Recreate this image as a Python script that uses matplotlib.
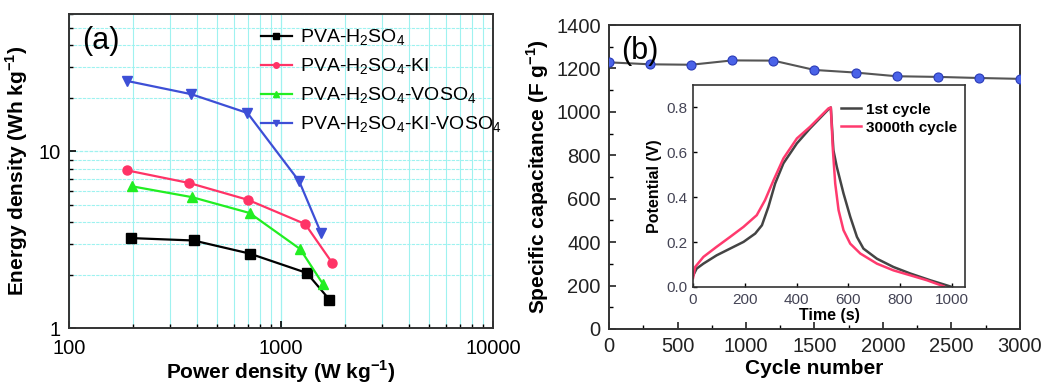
import numpy as np
import matplotlib
matplotlib.use("Agg")
import matplotlib.pyplot as plt
from matplotlib.ticker import LogLocator, MultipleLocator, NullFormatter, FixedLocator

plt.rcParams['font.family'] = ['Liberation Sans', 'DejaVu Sans']
plt.rcParams['mathtext.fontset'] = 'custom'
plt.rcParams['mathtext.rm'] = 'Liberation Sans'
plt.rcParams['mathtext.bf'] = 'Liberation Sans:bold'

# ---- Ragone data (power density W/kg, energy density Wh/kg) ----
p_h2so4 = [196, 387, 711, 1323, 1690]
e_h2so4 = [3.23, 3.13, 2.64, 2.05, 1.45]
p_ki = [188, 370, 698, 1300, 1747]
e_ki = [7.81, 6.62, 5.32, 3.88, 2.33]
p_voso4 = [199, 380, 711, 1231, 1574]
e_voso4 = [6.34, 5.51, 4.48, 2.80, 1.78]
p_ki_voso4 = [187, 377, 695, 1219, 1545]
e_ki_voso4 = [25.1, 21.1, 16.5, 6.77, 3.45]
series_labels = [r'PVA-H$_2$SO$_4$', r'PVA-H$_2$SO$_4$-KI',
                 r'PVA-H$_2$SO$_4$-VOSO$_4$', r'PVA-H$_2$SO$_4$-KI-VOSO$_4$']

# ---- cycling stability ----
cycles = [0, 300, 600, 900, 1200, 1500, 1800, 2100, 2400, 2700, 3000]
capacitance = [1228, 1219, 1217, 1237, 1236, 1193, 1181, 1164, 1161, 1156, 1152]

# ---- charge/discharge curves ----
t_first = [0, 14, 40, 91, 143, 195, 240, 266, 291, 317, 349, 401, 452, 523, 532,
           542, 555, 581, 607, 633, 658, 710, 774, 839, 916, 1000]
v_first = [0.050, 0.082, 0.104, 0.141, 0.171, 0.201, 0.238, 0.275, 0.357, 0.461,
           0.551, 0.640, 0.707, 0.792, 0.800, 0.610, 0.536, 0.417, 0.313, 0.223,
           0.171, 0.126, 0.089, 0.060, 0.030, 0.0]
t_last = [0, 8, 40, 91, 143, 195, 246, 278, 311, 349, 401, 452, 523, 532, 540,
          549, 562, 581, 607, 646, 710, 774, 839, 903, 968]
v_last = [0.040, 0.089, 0.134, 0.179, 0.223, 0.268, 0.320, 0.387, 0.476, 0.573,
          0.662, 0.714, 0.796, 0.800, 0.610, 0.461, 0.342, 0.253, 0.193, 0.149,
          0.104, 0.074, 0.052, 0.030, 0.003]

fig = plt.figure(figsize=(10.45, 3.83), dpi=100)

# ================= panel (a) =================
ax1 = fig.add_axes([0.066, 0.1436, 0.4058, 0.8198])
ax1.set_xscale('log')
ax1.set_yscale('log')
ax1.set_xlim(100, 10000)
ax1.set_ylim(1, 60)
grid_c = '#9ff2f0'
ax1.grid(True, which='major', axis='x', color=grid_c, lw=0.9)
ax1.grid(True, which='minor', axis='x', color=grid_c, lw=0.8)
ax1.grid(True, which='major', axis='y', color=grid_c, lw=0.9, ls=(0, (3, 1)))
ax1.grid(True, which='minor', axis='y', color=grid_c, lw=0.8, ls=(0, (3, 1)))
ax1.set_axisbelow(True)

styles = [
    (p_h2so4, e_h2so4, 'black', 's'),
    (p_ki, e_ki, '#ff3366', 'o'),
    (p_voso4, e_voso4, '#22ee22', '^'),
    (p_ki_voso4, e_ki_voso4, '#3d4fd6', 'v'),
]
handles = []
for (px, ey, col, mk), lab in zip(styles, series_labels):
    ax1.plot(px, ey, color=col, lw=1.6, marker=mk, ms=6.5, zorder=3)
    h, = ax1.plot([], [], color=col, lw=1.6, marker=mk, ms=4, label=lab)
    handles.append(h)

ax1.xaxis.set_major_locator(FixedLocator([100, 1000, 10000]))
ax1.set_xticklabels(['100', '1000', '10000'])
ax1.xaxis.set_minor_locator(LogLocator(base=10, subs=np.arange(2, 10)))
ax1.xaxis.set_minor_formatter(NullFormatter())
ax1.yaxis.set_major_locator(FixedLocator([1, 10]))
ax1.set_yticklabels(['1', '10'])
ax1.yaxis.set_minor_locator(LogLocator(base=10, subs=np.arange(2, 10)))
ax1.yaxis.set_minor_formatter(NullFormatter())
ax1.tick_params(which='major', direction='in', length=5, width=1.2, labelsize=14.5, pad=6)
ax1.tick_params(axis='x', which='major', pad=8)
ax1.tick_params(which='minor', direction='in', length=3, width=1)
for s in ax1.spines.values():
    s.set_linewidth(1.4)
    s.set_color('#333333')

ax1.set_xlabel(r'Power density (W kg$^{\mathbf{-1}}$)', fontsize=15, fontweight='bold', labelpad=0)
ax1.set_ylabel(r'Energy density (Wh kg$^{\mathbf{-1}}$)', fontsize=15, fontweight='bold', labelpad=6)
ax1.text(0.03, 0.915, '(a)', transform=ax1.transAxes, fontsize=22, va='center')
ax1.legend(handles=handles, loc='upper left', bbox_to_anchor=(0.42, 1.0), frameon=False,
           fontsize=14, handlelength=1.6, handletextpad=0.4, labelspacing=0.45,
           borderaxespad=0.3)

# ================= panel (b) =================
ax2 = fig.add_axes([0.5828, 0.141, 0.3932, 0.7937])
ax2.plot(cycles, capacitance, color='#555555', lw=1.5, marker='o', ms=6.5,
         mfc='#4a63e8', mec='#2a3bb8', mew=0.8, zorder=3)
ax2.set_xlim(0, 3000)
ax2.set_ylim(0, 1400)
ax2.xaxis.set_major_locator(MultipleLocator(500))
ax2.xaxis.set_minor_locator(MultipleLocator(250))
ax2.yaxis.set_major_locator(MultipleLocator(200))
ax2.yaxis.set_minor_locator(MultipleLocator(100))
ax2.tick_params(which='major', direction='in', length=5, width=1.2, labelsize=14.5, pad=6,
                colors='#222222')
ax2.tick_params(which='minor', direction='in', length=3, width=1)
for s in ax2.spines.values():
    s.set_linewidth(1.4)
    s.set_color('#333333')
ax2.set_xlabel('Cycle number', fontsize=15, fontweight='bold', labelpad=2)
ax2.set_ylabel(r'Specific capacitance (F g$^{\mathbf{-1}}$)', fontsize=15, fontweight='bold', labelpad=4)
ax2.text(0.03, 0.915, '(b)', transform=ax2.transAxes, fontsize=22, va='center')

# ---- inset: charge/discharge ----
ax3 = fig.add_axes([0.6632, 0.2507, 0.2602, 0.5273])
ax3.plot(t_first, v_first, color='#444444', lw=1.8, label='1st cycle')
ax3.plot(t_last, v_last, color='#ff3a6e', lw=1.8, label='3000th cycle')
ax3.set_xlim(0, 1050)
ax3.set_ylim(0, 0.9)
ax3.xaxis.set_major_locator(MultipleLocator(200))
ax3.set_yticks([0.0, 0.2, 0.4, 0.6, 0.8])
ax3.set_yticklabels(['0.0', '0.2', '0.4', '0.6', '0.8'])
ax3.tick_params(direction='in', length=3, width=1, labelsize=11, pad=4, labelcolor='#444455')
for s in ax3.spines.values():
    s.set_linewidth(1.2)
    s.set_color('#333333')
ax3.set_xlabel('Time (s)', fontsize=11.5, fontweight='bold', labelpad=1)
ax3.set_ylabel('Potential (V)', fontsize=11.5, fontweight='bold', labelpad=3)
ax3.legend(loc='upper right', bbox_to_anchor=(1.02, 0.98), frameon=False,
           handlelength=1.3, handletextpad=0.3, labelspacing=0.25,
           prop={'weight': 'bold', 'size': 11})

fig.savefig('out.png', dpi=100)
